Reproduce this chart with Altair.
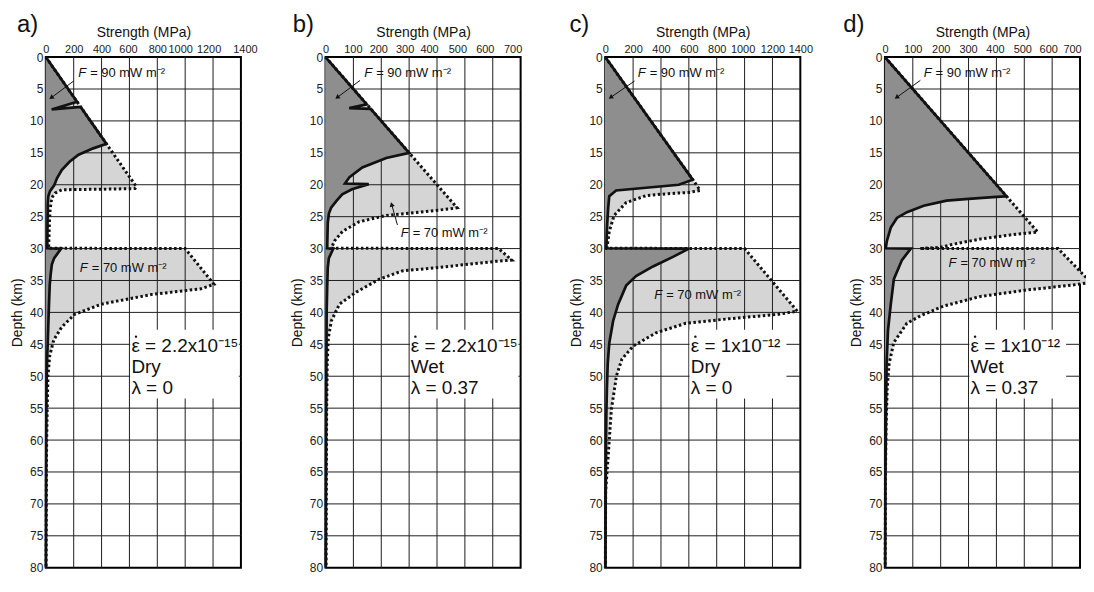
import math
import altair as alt
import pandas as pd

W, H = 196, 513
DEPTH_MAX = 80
FONT = "Liberation Sans"

letters = ["a)", "b)", "c)", "d)"]
letter_dx = [-29, -33, -36, -42]
x_max = [1400, 700, 1400, 700]
x_step = [200, 100, 200, 100]
# small horizontal shifts of some strength tick labels, as printed in the figure
label_shift = [
    {600: -1.5, 1000: -5, 1200: -4.5, 1400: 4},
    {100: -0.5, 200: -3, 300: -4.5, 400: -8, 500: -7.5, 600: -8, 700: -8},
    {1000: -2},
    {300: -0.5, 400: -1.5, 500: -2, 600: -4, 700: -8},
]

# ---- F = 90 mW m-2 strength profiles (solid) ----
a90_s = [0, 224, 42, 250, 435, 340, 235, 170, 114, 80, 60, 30, 18, 14, 12, 10,
         110, 60, 43, 35, 28, 21, 14, 8, 5, 3, 2, 1]
a90_d = [0, 7.0, 8.2, 7.8, 13.6, 14.3, 15.3, 16.4, 17.7, 19.0, 20.1, 21.0, 21.8, 23, 26, 29.95,
         30.0, 31.5, 32.5, 34, 35.7, 39.8, 44.7, 48, 52, 60, 70, 80]
b90_s = [0, 148, 85, 162, 300, 218, 132, 86, 70, 155, 95, 60, 40, 20, 12, 8, 6,
         28, 12, 8, 6, 4, 3, 2, 1]
b90_d = [0, 7.4, 8.0, 8.1, 15.0, 15.8, 17.3, 18.8, 19.8, 19.9, 20.7, 21.5, 22.5, 23.6, 24.5, 26, 29.95,
         30.0, 31.5, 33, 36, 40, 50, 60, 80]
c90_s = [0, 628, 528, 78, 29, 21, 12, 8,
         600, 486, 343, 221, 150, 93, 57, 29, 18, 12, 8, 5, 3, 2]
c90_d = [0, 19.2, 20.0, 20.9, 21.8, 23.7, 27, 29.95,
         30.0, 31.3, 32.8, 34.3, 35.8, 38.7, 41.3, 44.8, 48, 52, 56, 62, 70, 80]
d90_s = [0, 436, 400, 300, 221, 139, 79, 43, 21, 7, 3,
         93, 61, 32, 21, 11, 6, 4, 2, 1]
d90_d = [0, 21.8, 21.9, 22.2, 22.5, 23.3, 24.3, 25.2, 26.7, 28.8, 29.95,
         30.0, 31.8, 34.8, 38.7, 42.8, 48, 55, 65, 80]

# ---- F = 70 mW m-2 strength profiles (dotted) ----
a70_s = [0, 435, 650, 640, 400, 200, 114, 67, 43, 31, 26, 20,
         1000, 1207, 1114, 757, 400, 207, 114, 57, 28, 15, 10, 6, 4, 2]
a70_d = [0, 13.6, 20.3, 20.6, 20.7, 20.75, 20.8, 21.3, 22.0, 23.8, 25.8, 29.95,
         30.0, 35.6, 36.3, 37.2, 38.7, 40.3, 42.3, 44.3, 46.8, 50, 55, 60, 65, 80]
b70_s = [0, 300, 472, 443, 336, 218, 121, 61, 32, 21,
         621, 668, 611, 396, 275, 193, 111, 50, 21, 10, 6, 4, 3, 2]
b70_d = [0, 15, 23.6, 23.8, 24.3, 24.8, 25.8, 27.3, 28.8, 29.95,
         30.0, 31.8, 32.0, 33.0, 33.5, 34.8, 36.8, 38.7, 41.3, 44, 48, 55, 65, 80]
c70_s = [0, 628, 682, 600, 450, 293, 150, 64, 29, 12,
         1000, 1378, 1243, 886, 578, 364, 200, 120, 81, 44, 19, 3, 1]
c70_d = [0, 19.2, 20.9, 21.2, 21.4, 21.7, 22.8, 24.8, 27.3, 29.95,
         30.0, 39.8, 40.3, 41.0, 41.7, 43.2, 45.3, 47.3, 49.9, 55.2, 63.2, 68, 80]
d70_s = [0, 436, 548, 461, 343, 246, 200, 125,
         621, 739, 675, 507, 343, 211, 129, 79, 32, 15, 8, 4, 2, 1]
d70_d = [0, 21.8, 27.4, 27.8, 28.5, 29.3, 29.8, 30.0,
         30.0, 35.3, 35.7, 36.5, 37.5, 39.0, 40.5, 41.7, 44.7, 48, 52, 58, 65, 80]

p90 = [(a90_s, a90_d), (b90_s, b90_d), (c90_s, c90_d), (d90_s, d90_d)]
p70 = [(a70_s, a70_d), (b70_s, b70_d), (c70_s, c70_d), (d70_s, d70_d)]

# ---- annotations (data coordinates) ----
f90_label_s = [233, 139, 233, 139]
f90_label_d = [2.5, 2.5, 2.5, 2.5]
f90_arrow = [(200, 3.75, 43, 6.3), (124, 3.65, 44, 6.26), (210, 3.75, 43, 6.26), (127, 3.65, 44, 6.26)]
f70_label_s = [244, 270, 352, 228]
f70_label_d = [33.0, 27.5, 37.3, 32.3]
f70_arrow = [None, (258, 26.3, 238, 23.2), None, None]

rate_text = ["\u03b5 = 2.2x10\u207b\u00b9\u2075", "\u03b5 = 2.2x10\u207b\u00b9\u2075",
             "\u03b5 = 1x10\u207b\u00b9\u00b2", "\u03b5 = 1x10\u207b\u00b9\u00b2"]
cond_text = ["Dry", "Wet", "Dry", "Wet"]
lam_text = ["\u03bb = 0", "\u03bb = 0.37", "\u03bb = 0", "\u03bb = 0.37"]
box_text_s = [614, 306, 614, 307]
box_line_d = [45.2, 48.5, 51.8]
box_s1 = [605, 303, 605, 303]
box_s2 = [1385, 692, 1300, 650]
box_d1, box_d2 = 42.7, 53.5

DARK = "#8e8e8e"
LIGHT = "#d5d5d5"


def panel(k):
    xm = x_max[k]
    xs = alt.Scale(domain=[0, xm], nice=False, zero=False)
    ys = alt.Scale(domain=[0, DEPTH_MAX], nice=False, reverse=True)
    offs = {"condition": [{"test": f"datum.value == {v}", "value": o} for v, o in label_shift[k].items()],
            "value": 0}
    xaxis = alt.Axis(orient="top", values=list(range(0, xm + 1, x_step[k])), title="Strength (MPa)",
                     grid=False, domain=False, ticks=False, labelFlush=False, labelOverlap=False,
                     labelPadding=3, titlePadding=4, format="d", labelFontSize=11, titleFontSize=14,
                     labelOffset=offs)
    yaxis = alt.Axis(values=list(range(0, DEPTH_MAX + 1, 5)), title="Depth (km)", grid=False,
                     domain=False, ticks=False, labelFlush=False, labelOverlap=False,
                     labelPadding=3, titlePadding=5, labelFontSize=12, titleFontSize=14)

    def X(f):
        return alt.X(f, type="quantitative", scale=xs, axis=xaxis)

    def Y(f):
        return alt.Y(f, type="quantitative", scale=ys, axis=yaxis)

    s90, d90 = p90[k]
    s70, d70 = p70[k]
    line90 = pd.DataFrame({"s": s90, "d": d90, "i": range(len(s90))})
    line70 = pd.DataFrame({"s": s70, "d": d70, "i": range(len(s70))})
    poly90 = pd.DataFrame({"s": s90 + [0], "d": d90 + [DEPTH_MAX], "i": range(len(s90) + 1)})
    poly70 = pd.DataFrame({"s": s70 + [0], "d": d70 + [DEPTH_MAX], "i": range(len(s70) + 1)})

    order = alt.Order("i", type="quantitative")
    fill70 = alt.Chart(poly70).mark_line(fill=LIGHT, stroke="transparent").encode(
        x=X("s"), y=Y("d"), order=order)
    fill90 = alt.Chart(poly90).mark_line(fill=DARK, stroke="transparent").encode(
        x=X("s"), y=Y("d"), order=order)

    gx = pd.DataFrame({"s": list(range(x_step[k], xm, x_step[k]))})
    gy = pd.DataFrame({"d": list(range(5, DEPTH_MAX, 5))})
    gridx = alt.Chart(gx).mark_rule(color="#1e1e1e", strokeWidth=1).encode(x=X("s"))
    gridy = alt.Chart(gy).mark_rule(color="#1e1e1e", strokeWidth=1).encode(y=Y("d"))

    box = alt.Chart(pd.DataFrame({"s": [box_s1[k]], "s2": [box_s2[k]], "d": [box_d1], "d2": [box_d2]})
                    ).mark_rect(color="white").encode(x=X("s"), x2="s2", y=Y("d"), y2="d2")

    dotted = alt.Chart(line70).mark_line(color="#111", strokeWidth=3, strokeDash=[2.5, 2.5],
                                          strokeCap="butt").encode(x=X("s"), y=Y("d"), order=order)
    solid = alt.Chart(line90).mark_line(color="#111", strokeWidth=2.7, strokeJoin="miter").encode(
        x=X("s"), y=Y("d"), order=order)

    arrows = [f90_arrow[k]] + ([f70_arrow[k]] if f70_arrow[k] else [])
    sx, sy = W / xm, H / DEPTH_MAX
    arr = pd.DataFrame({
        "s": [a[0] for a in arrows], "d": [a[1] for a in arrows],
        "s2": [a[2] for a in arrows], "d2": [a[3] for a in arrows],
        "ang": [math.degrees(math.atan2((a[2] - a[0]) * sx, -(a[3] - a[1]) * sy)) % 360 for a in arrows],
    })
    arr_line = alt.Chart(arr).mark_rule(color="#111", strokeWidth=1).encode(
        x=X("s"), y=Y("d"), x2="s2", y2="d2")
    arr_head = alt.Chart(arr).mark_point(shape="triangle", filled=True, color="#111", size=28,
                                         opacity=1).encode(
        x=X("s2"), y=Y("d2"), angle=alt.Angle("ang", type="quantitative", scale=None))

    lab = pd.DataFrame({"s": [f90_label_s[k], f70_label_s[k]], "d": [f90_label_d[k], f70_label_d[k]],
                        "rest": ["= 90 mW m\u207b\u00b2", "= 70 mW m\u207b\u00b2"]})
    labF = alt.Chart(lab).mark_text(fontSize=13, fontStyle="italic", align="left", baseline="middle",
                                    color="#111", text="F").encode(x=X("s"), y=Y("d"))
    labR = alt.Chart(lab).mark_text(fontSize=13, align="left", baseline="middle", dx=12,
                                    color="#111").encode(x=X("s"), y=Y("d"), text="rest:N")

    bt = pd.DataFrame({"s": [box_text_s[k]] * 3, "d": box_line_d,
                       "t": [rate_text[k], cond_text[k], lam_text[k]]})
    boxtext = alt.Chart(bt).mark_text(fontSize=19, align="left", baseline="middle", color="#111").encode(
        x=X("s"), y=Y("d"), text="t:N")
    dot = alt.Chart(bt.iloc[:1]).mark_circle(size=6, color="#111", opacity=1, xOffset=4.6,
                                             yOffset=-9).encode(x=X("s"), y=Y("d"))

    letter = alt.Chart(pd.DataFrame({"t": [letters[k]]})).mark_text(
        fontSize=24, align="left", baseline="top", color="#111").encode(
        x=alt.value(letter_dx[k]), y=alt.value(-44), text="t:N")

    return alt.layer(fill70, gridx, gridy, fill90, box, arr_line, dotted, solid, arr_head,
                     labF, labR, boxtext, dot, letter).properties(width=W, height=H)


chart = alt.hconcat(*[panel(k) for k in range(4)], spacing=85, bounds="flush").properties(
    padding={"left": 1, "top": 3, "right": -12, "bottom": 0}
).configure_view(stroke="black", strokeWidth=2).configure_axis(
    labelFont=FONT, titleFont=FONT, labelColor="#222", titleColor="#111", titleFontWeight="normal"
).configure_text(font=FONT)

chart.save("out.html", embed_options={"renderer": "svg", "actions": False})
